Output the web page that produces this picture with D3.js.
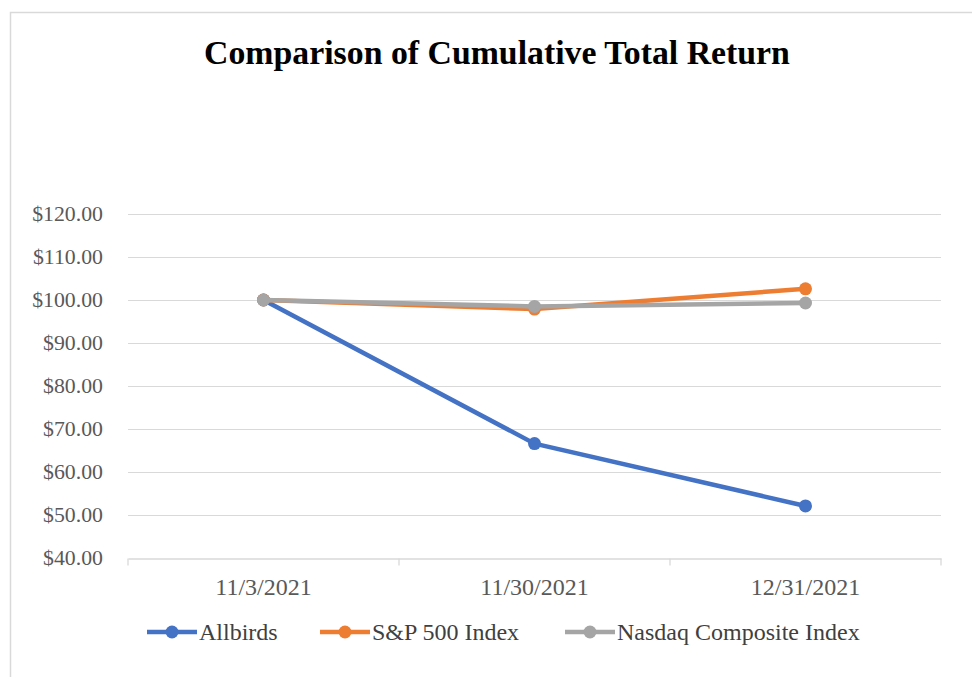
<!DOCTYPE html>
<html>
<head>
<meta charset="utf-8">
<script src="https://cdn.jsdelivr.net/npm/d3@7"></script>
<style>
  body { margin: 0; background: #fff; }
  text { font-family: "Liberation Serif", "Times New Roman", serif; }
</style>
</head>
<body>
<div class="chart"></div>
<script>
// data
var dates = ["11/3/2021", "11/30/2021", "12/31/2021"];
var allbirds = [100.00, 66.60, 52.10];
var sp500 = [100.00, 97.90, 102.60];
var nasdaq = [100.00, 98.50, 99.30];
var seriesNames = ["Allbirds", "S&P 500 Index", "Nasdaq Composite Index"];
var seriesColors = ["#4472c4", "#ed7d31", "#a5a5a5"];
var yTicks = [40, 50, 60, 70, 80, 90, 100, 110, 120];

var W = 972, H = 677;
var margin = {top: 214, right: 31, bottom: 119, left: 128};
var width = W - margin.left - margin.right,
    height = H - margin.top - margin.bottom;

var svg = d3.select(".chart").append("svg")
  .attr("width", W).attr("height", H);

// outer chart border (left/top only visible in the crop)
svg.append("rect")
  .attr("x", 10.5).attr("y", 12.5)
  .attr("width", W + 20).attr("height", H + 20)
  .attr("fill", "none").attr("stroke", "#d9d9d9").attr("stroke-width", 1.5);

svg.append("text")
  .attr("x", 497).attr("y", 64)
  .attr("text-anchor", "middle")
  .style("font-size", "33.8px").style("font-weight", "bold")
  .attr("fill", "#000")
  .text("Comparison of Cumulative Total Return");

var g = svg.append("g")
  .attr("transform", "translate(" + margin.left + "," + margin.top + ")");

var x = d3.scaleBand().domain(dates).range([0, width]);
var y = d3.scaleLinear().domain([40, 120]).range([height, 0]);

// gridlines
g.selectAll(".grid")
  .data(yTicks.slice(1))
  .enter().append("line")
  .attr("class", "grid")
  .attr("x1", 0).attr("x2", width)
  .attr("y1", d => y(d) + 0.5).attr("y2", d => y(d) + 0.5)
  .attr("stroke", "#d9d9d9").attr("stroke-width", 1);

// x axis
var xAxis = g.append("g")
  .attr("transform", "translate(0," + (height + 0.5) + ")")
  .call(d3.axisBottom(x).tickSize(0).tickPadding(19));
xAxis.select(".domain").attr("stroke", "#d9d9d9").attr("stroke-width", 1.3);
xAxis.selectAll("text").style("font-size", "24px").attr("fill", "#595959");
xAxis.selectAll(".sep")
  .data([0, 1, 2, 3])
  .enter().append("line")
  .attr("class", "sep")
  .attr("x1", i => i * x.step()).attr("x2", i => i * x.step())
  .attr("y1", 0).attr("y2", 7)
  .attr("stroke", "#d9d9d9").attr("stroke-width", 1.3);

// y axis
var yAxis = g.append("g")
  .call(d3.axisLeft(y).tickValues(yTicks).tickSize(0).tickPadding(25)
    .tickFormat(d => "$" + d3.format(".2f")(d)));
yAxis.select(".domain").remove();
yAxis.selectAll("text").style("font-size", "21.8px").attr("fill", "#595959");

var allSeries = [allbirds, sp500, nasdaq];
var line = d3.line()
  .x((d, i) => x(dates[i]) + x.bandwidth() / 2)
  .y(d => y(d));

// draw back to front: Allbirds, S&P, Nasdaq on top
allSeries.forEach(function(vals, s) {
  g.append("path")
    .datum(vals)
    .attr("fill", "none")
    .attr("stroke", seriesColors[s])
    .attr("stroke-width", 4.5)
    .attr("stroke-linejoin", "round")
    .attr("d", line);
  g.selectAll(".pt" + s)
    .data(vals)
    .enter().append("circle")
    .attr("class", "pt" + s)
    .attr("cx", (d, i) => x(dates[i]) + x.bandwidth() / 2)
    .attr("cy", d => y(d))
    .attr("r", 6.5)
    .attr("fill", seriesColors[s]);
});

// legend
var legendX = [147, 320, 565];
var legend = svg.append("g").attr("transform", "translate(0,632)");
seriesNames.forEach(function(name, s) {
  var lg = legend.append("g").attr("transform", "translate(" + legendX[s] + ",0)");
  lg.append("line")
    .attr("x1", 0).attr("x2", 50).attr("y1", 0).attr("y2", 0)
    .attr("stroke", seriesColors[s]).attr("stroke-width", 4.5);
  lg.append("circle").attr("cx", 25).attr("cy", 0).attr("r", 6.5)
    .attr("fill", seriesColors[s]);
  lg.append("text").attr("x", 52).attr("y", 8)
    .style("font-size", "24px").attr("fill", "#404040")
    .text(name);
});
</script>
</body>
</html>
